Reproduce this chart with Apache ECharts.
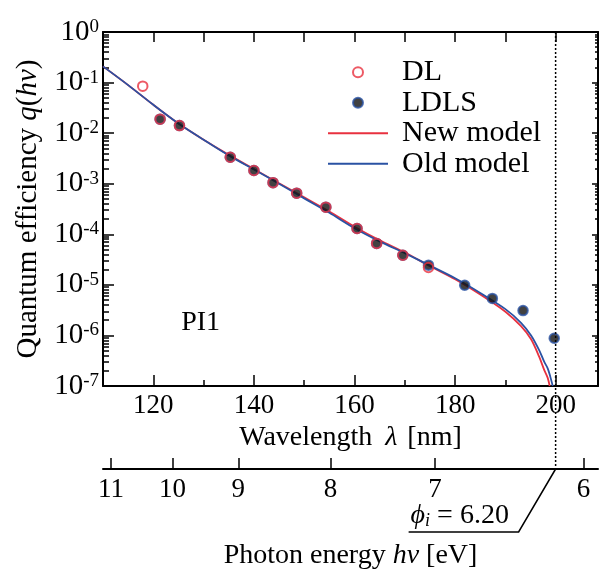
<!DOCTYPE html>
<html>
<head>
<meta charset="UTF-8">
<title>Quantum efficiency - PI1</title>
<script src="https://cdn.jsdelivr.net/npm/echarts@6/dist/echarts.min.js"></script>
<style>
  html, body { margin: 0; padding: 0; background: #fff; }
  #chart { width: 600px; height: 575px; }
</style>
</head>
<body>
<div id="chart"></div>
<script>
// measured points [wavelength nm, quantum efficiency]
const dlPoints = [
  [117.9, 8.5e-2], [121.35, 1.89e-2], [125.2, 1.41e-2], [135.3, 3.34e-3],
  [140.0, 1.83e-3], [143.8, 1.05e-3], [148.5, 6.5e-4], [154.3, 3.44e-4],
  [160.5, 1.30e-4], [164.4, 6.6e-5], [169.6, 3.86e-5], [174.7, 2.2e-5]
];
const ldlsPoints = [
  [121.35, 1.89e-2], [125.2, 1.41e-2], [135.3, 3.34e-3], [140.0, 1.83e-3],
  [143.8, 1.05e-3], [148.5, 6.5e-4], [154.3, 3.44e-4], [160.5, 1.30e-4],
  [164.4, 6.6e-5], [169.6, 3.86e-5], [174.7, 2.45e-5], [181.9, 9.8e-6],
  [187.4, 5.4e-6], [193.5, 3.1e-6], [199.7, 8.8e-7]
];

// model curves
const newModelWl = [110, 115, 120, 125, 130, 135, 140, 145, 150, 155, 160, 165, 170, 175,
  180, 185, 190, 193.1, 195.1, 196.7, 197.7, 198.4, 198.8];
const newModelQ = [0.209, 8.91e-2, 3.63e-2, 1.55e-2, 7.41e-3, 3.72e-3, 1.95e-3, 1.02e-3,
  5.37e-4, 2.82e-4, 1.41e-4, 7.59e-5, 4.37e-5, 2.34e-5, 1.29e-5, 6.46e-6, 2.95e-6,
  1.52e-6, 8.39e-7, 3.80e-7, 2.09e-7, 1.45e-7, 1.0e-7];
const oldModelWl = [110, 115, 120, 125, 130, 135, 140, 145, 150, 155, 160, 165, 170, 175,
  180, 185, 190, 193.1, 195.1, 196.7, 197.7, 198.4, 198.9, 199.4];
const oldModelQ = [0.209, 8.91e-2, 3.63e-2, 1.55e-2, 7.41e-3, 3.63e-3, 1.91e-3, 1.00e-3,
  5.13e-4, 2.66e-4, 1.32e-4, 7.24e-5, 4.22e-5, 2.40e-5, 1.35e-5, 6.92e-6, 3.31e-6,
  1.78e-6, 1.0e-6, 5.13e-7, 3.02e-7, 2.24e-7, 1.55e-7, 1.0e-7];

// ticks
const wlTicks = [120, 140, 160, 180, 200];
const wlMinorTicks = [130, 150, 170, 190];
const wlTopTicks = [120, 130, 140, 150, 160, 170, 180, 190, 200];
const energyTicks = [11, 10, 9, 8, 7, 6];
const energyTickNm = [111.6, 123.8, 136.9, 155.2, 176.0, 205.5];
const decadeTicks = [1e-7, 1e-6, 1e-5, 1e-4, 1e-3, 1e-2, 1e-1, 1];
const phiEV = 6.20;
const pi1Label = [129.4, 1.76e-6];

const minorDecadeTicks = [];
for (let e = -7; e < 0; e++) {
  for (let m = 2; m <= 9; m++) minorDecadeTicks.push(m * Math.pow(10, e));
}

const RED = '#e8313f';
const BLUE = '#2a52a3';
const FONT = 'Liberation Serif, Times New Roman, serif';
const energyOffset = 83;

const chart = echarts.init(document.getElementById('chart'), null, { renderer: 'canvas' });

const txt = (size, extra) => Object.assign({ fontSize: size, fontFamily: FONT, color: '#000' }, extra || {});
const blankX = { min: 110, max: 208.4, type: 'value', splitLine: { show: false } };
const blankY = { type: 'log', logBase: 10, min: 1e-7, max: 1, splitLine: { show: false } };
const frameLine = { show: true, onZero: false, lineStyle: { color: '#000', width: 2 } };
const tickLine = { color: '#000', width: 1.5 };

chart.setOption({
  animation: false,
  textStyle: { fontFamily: FONT, color: '#000' },
  grid: { left: 103, top: 32, right: 2, bottom: 184 },
  legend: {
    orient: 'vertical',
    left: 322,
    top: 52,
    padding: 5,
    itemGap: 0,
    itemWidth: 60,
    itemHeight: 10,
    data: ['DL', 'LDLS', 'New model', 'Old model'],
    textStyle: txt(30, { lineHeight: 30.5, padding: [0, 0, 0, 9] })
  },
  xAxis: [
    Object.assign({}, blankX, {
      position: 'bottom',
      axisLine: frameLine,
      axisTick: { inside: true, length: 11, customValues: wlTicks, lineStyle: tickLine },
      axisLabel: txt(27, { customValues: wlTicks, margin: 6 }),
      name: '{n|Wavelength}{i|λ}{n|[nm]}',
      nameLocation: 'middle',
      nameGap: 30,
      nameTextStyle: txt(28, { rich: {
        n: txt(28),
        i: txt(28, { fontStyle: 'italic', padding: [0, 10, 0, 13] })
      } })
    }),
    Object.assign({}, blankX, {
      position: 'bottom',
      axisLine: { show: false },
      axisTick: { inside: true, length: 6, customValues: wlMinorTicks, lineStyle: tickLine },
      axisLabel: { show: false }
    }),
    Object.assign({}, blankX, {
      position: 'top',
      axisLine: frameLine,
      axisTick: { inside: true, length: 10, customValues: wlTopTicks, lineStyle: tickLine },
      axisLabel: { show: false }
    }),
    Object.assign({}, blankX, {
      position: 'bottom',
      offset: energyOffset,
      axisLine: frameLine,
      axisTick: { inside: true, length: 11, customValues: energyTickNm, lineStyle: tickLine },
      axisLabel: txt(27, {
        customValues: energyTickNm,
        margin: 7,
        formatter: (v) => String(energyTicks[energyTickNm.indexOf(v)])
      }),
      name: '{n|Photon energy }{i|hν}{n| [eV]}',
      nameLocation: 'middle',
      nameGap: 73,
      nameTextStyle: txt(28, { rich: { n: txt(28), i: txt(28, { fontStyle: 'italic' }) } })
    })
  ],
  yAxis: [
    Object.assign({}, blankY, {
      position: 'left',
      axisLine: frameLine,
      axisTick: { inside: true, length: 11, customValues: decadeTicks, lineStyle: tickLine },
      axisLabel: txt(29, {
        customValues: decadeTicks,
        margin: 4,
        formatter: (v) => '{b|10}{s|' + Math.round(Math.log10(v)) + '}',
        rich: {
          b: txt(29),
          s: txt(19, { verticalAlign: 'top' })
        }
      }),
      name: '{n|Quantum efficiency }{i|q}{n|(}{i|hν}{n|)}',
      nameLocation: 'middle',
      nameGap: 58,
      nameTextStyle: txt(29, { rich: {
        n: txt(29),
        i: txt(29, { fontStyle: 'italic' })
      } })
    }),
    Object.assign({}, blankY, {
      position: 'left',
      axisLine: { show: false },
      axisTick: { inside: true, length: 6, customValues: minorDecadeTicks, lineStyle: tickLine },
      axisLabel: { show: false }
    }),
    Object.assign({}, blankY, {
      position: 'right',
      axisLine: frameLine,
      axisTick: { inside: true, length: 6, customValues: decadeTicks, lineStyle: tickLine },
      axisLabel: { show: false }
    }),
    Object.assign({}, blankY, {
      position: 'right',
      axisLine: { show: false },
      axisTick: { inside: true, length: 3, customValues: minorDecadeTicks, lineStyle: tickLine },
      axisLabel: { show: false }
    })
  ],
  series: [
    {
      name: 'New model', type: 'line', symbol: 'none', smooth: 0.3, z: 2,
      data: newModelWl.map((w, i) => [w, newModelQ[i]]),
      lineStyle: { color: RED, width: 1.8 }, itemStyle: { color: 'rgba(0,0,0,0)' }
    },
    {
      name: 'Old model', type: 'line', symbol: 'none', smooth: 0.3, z: 2,
      data: oldModelWl.map((w, i) => [w, oldModelQ[i]]),
      lineStyle: { color: BLUE, width: 1.8 }, itemStyle: { color: 'rgba(0,0,0,0)' }
    },
    {
      name: 'LDLS', type: 'scatter', symbol: 'circle', symbolSize: 9.5, z: 3,
      data: ldlsPoints,
      itemStyle: { color: '#111', borderColor: BLUE, borderWidth: 2 }
    },
    {
      name: 'DL', type: 'scatter', symbol: 'circle', symbolSize: 9.5, z: 4,
      data: dlPoints,
      itemStyle: { color: 'rgba(0,0,0,0)', borderColor: RED, borderWidth: 2 }
    }
  ]
});

// annotations placed through the axis scales
const xPhi = chart.convertToPixel({ xAxisIndex: 0 }, 1239.84 / phiEV);
const yTop = chart.convertToPixel({ yAxisIndex: 0 }, 1);
const yEnergy = chart.convertToPixel({ yAxisIndex: 0 }, 1e-7) + energyOffset;
const pi1 = chart.convertToPixel({ xAxisIndex: 0, yAxisIndex: 0 }, pi1Label);

chart.setOption({
  graphic: [
    {
      type: 'line', silent: true, z: 10,
      shape: { x1: xPhi, y1: yTop, x2: xPhi, y2: yEnergy },
      style: { stroke: '#000', lineWidth: 1.5, lineDash: [2, 2] }
    },
    {
      type: 'polyline', silent: true, z: 10,
      shape: { points: [[xPhi, yEnergy], [xPhi - 37, yEnergy + 63], [xPhi - 147, yEnergy + 63]] },
      style: { stroke: '#000', lineWidth: 1.5, fill: null }
    },
    {
      type: 'text', silent: true, z: 10,
      x: xPhi - 145, y: yEnergy + 61,
      style: {
        text: '{g|ϕ}{s|i}{n| = 6.20}',
        verticalAlign: 'bottom',
        rich: {
          g: { fontSize: 28, fontFamily: FONT, fontStyle: 'italic', fill: '#000' },
          s: { fontSize: 18, fontFamily: FONT, fontStyle: 'italic', fill: '#000', verticalAlign: 'bottom' },
          n: { fontSize: 28, fontFamily: FONT, fill: '#000' }
        }
      }
    },
    {
      type: 'text', silent: true, z: 10,
      x: pi1[0], y: pi1[1],
      style: { text: 'PI1', fontSize: 28, fontFamily: FONT, fill: '#000', align: 'center', verticalAlign: 'middle' }
    }
  ]
});
</script>
</body>
</html>
